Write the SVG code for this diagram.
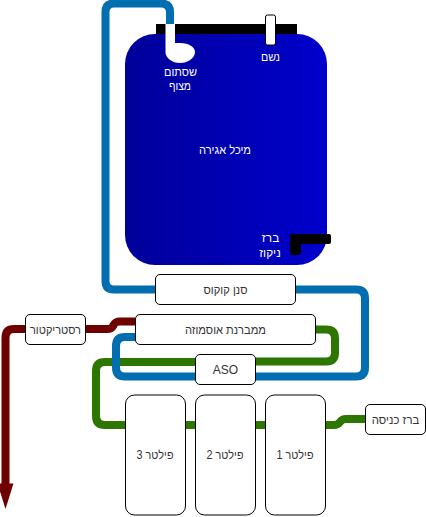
<svg xmlns="http://www.w3.org/2000/svg" width="426" height="517" viewBox="0 0 426 517">
<style>
.box{fill:#fff;stroke:#000;stroke-width:1}
.pipe{fill:none;stroke-width:8;stroke-linejoin:round}
.b{stroke:#006EAF}.g{stroke:#2D7600}.r{stroke:#6F0000}
text{font-family:"Liberation Sans",Arial,sans-serif;font-size:12px;text-anchor:middle;fill:#333}
.w{fill:#fff}
</style>
<defs>
<linearGradient id="tankFill" x1="0" y1="0" x2="1" y2="0"><stop offset="0" stop-color="#000099"/><stop offset="1" stop-color="#0000CC"/></linearGradient>
</defs>
<g id="connectors">
<path class="pipe g" d="M196 362H105Q96 362 96 371V416Q96 425 105 425H125"/>
<path class="pipe b" d="M156 289.500H114Q105.500 289.500 105.500 281V12Q105.500 3.500 114 3.500H161Q170 3.500 170 12V26"/>
<path class="pipe b" d="M135 337H125Q116 337 116 346V367.500Q116 376.500 125 376.500H196"/>
<path class="pipe b" d="M296 289.500H356Q365 289.500 365 298.500V367.500Q365 376.500 356 376.500H256"/>
<path class="pipe g" d="M315 329.500H326Q335 329.500 335 338.500V352.500Q335 361.500 326 361.500H256"/>
<path class="pipe g" d="M185 425H196M255 425H266"/>
<path class="pipe g" d="M325 425H334C342 425 338 419 346 419H366"/>
<path class="pipe r" d="M135 321.500H120C111 321.500 116 329 107 329H85"/>
<path class="pipe r" d="M26 329H14Q5.500 329 5.500 338V484"/>
<path d="M-2.500 483.500H13.500L5.500 509Z" fill="#6F0000"/>
</g>
<g id="tank">
<rect x="156" y="24" width="141" height="11" fill="#000"/>
<rect x="125" y="34" width="202" height="231" rx="30" fill="url(#tankFill)"/>
<text class="w" x="225" y="154" textLength="52" lengthAdjust="spacingAndGlyphs">מיכל אגירה</text>
</g>
<g id="float-valve">
<path d="M165.500 24H175V43H180C189 43 195 47 195 52C195 58 188 63 180 63C172 63 165.500 58 165.500 52Z" fill="#fff"/>
<text class="w" x="180.500" y="76" textLength="33" lengthAdjust="spacingAndGlyphs">שסתום</text>
<text class="w" x="180" y="89.500" textLength="22" lengthAdjust="spacingAndGlyphs">מצוף</text>
</g>
<g id="vent">
<rect x="265.500" y="15" width="10" height="30" rx="2" class="box"/>
<text class="w" x="270.500" y="60.500" textLength="19" lengthAdjust="spacingAndGlyphs">נשם</text>
</g>
<g id="drain">
<path d="M292 234H329Q331 234 331 236V242Q331 244 329 244H301V252Q301 255 298 255H293Q290 255 290 252V236Q290 234 292 234Z" fill="#000"/>
<text class="w" x="270.500" y="242" textLength="17.500" lengthAdjust="spacingAndGlyphs">ברז</text>
<text class="w" x="270" y="256.500" textLength="21.500" lengthAdjust="spacingAndGlyphs">ניקוז</text>
</g>
<g id="coconut"><rect x="155.500" y="274.500" width="140" height="30" rx="4.500" class="box"/><text x="225.500" y="293.500" textLength="44" lengthAdjust="spacingAndGlyphs">סנן קוקוס</text></g>
<g id="membrane"><rect x="135.500" y="314.500" width="180" height="30" rx="4.500" class="box"/><text x="225.500" y="333.500" textLength="81" lengthAdjust="spacingAndGlyphs">ממברנת אוסמוזה</text></g>
<g id="restrictor"><rect x="25.500" y="314.500" width="60" height="30" rx="4.500" class="box"/><text x="55.500" y="333.500" textLength="51" lengthAdjust="spacingAndGlyphs">רסטריקטור</text></g>
<g id="aso"><rect x="195.500" y="354.500" width="60" height="30" rx="4.500" class="box"/><text x="225.500" y="373.500">ASO</text></g>
<g id="filter3"><rect x="125.500" y="395" width="60" height="120" rx="9" class="box"/><text x="155" y="459" textLength="37" lengthAdjust="spacingAndGlyphs">פילטר 3</text></g>
<g id="filter2"><rect x="195.500" y="395" width="60" height="120" rx="9" class="box"/><text x="225" y="459" textLength="37" lengthAdjust="spacingAndGlyphs">פילטר 2</text></g>
<g id="filter1"><rect x="265.500" y="395" width="60" height="120" rx="9" class="box"/><text x="295" y="459" textLength="37" lengthAdjust="spacingAndGlyphs">פילטר 1</text></g>
<g id="inlet"><rect x="365.500" y="404.500" width="60" height="30" rx="4.500" class="box"/><text x="395.500" y="423.500" textLength="47.500" lengthAdjust="spacingAndGlyphs">ברז כניסה</text></g>
</svg>
